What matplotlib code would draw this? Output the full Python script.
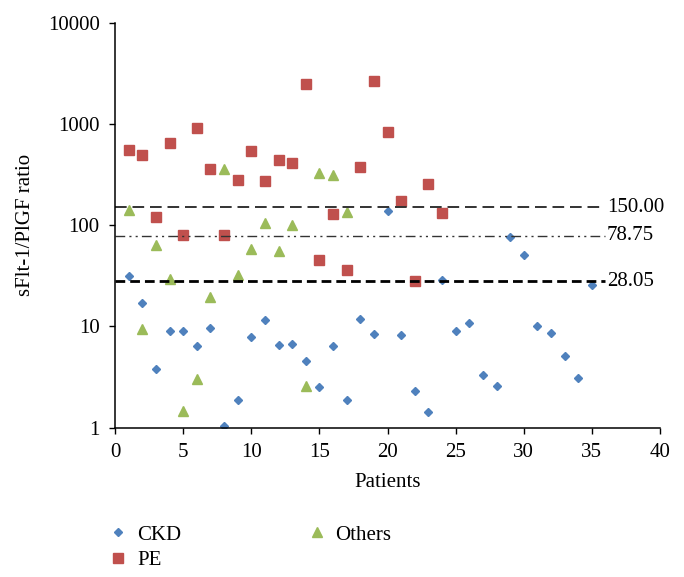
import matplotlib
matplotlib.use("Agg")
import matplotlib.pyplot as plt
from matplotlib.lines import Line2D

plt.rcParams['font.family'] = ['Liberation Serif', 'DejaVu Serif']
plt.rcParams['font.size'] = 15

# CKD patients 1-35
ckd_x = list(range(1, 36))
ckd_y = [31.8, 17.1, 3.78, 9.09, 9.09, 6.42, 9.73, 1.04, 1.87, 7.82,
         11.5, 6.56, 6.67, 4.59, 2.52, 6.46, 1.89, 11.9, 8.49, 138,
         8.30, 2.31, 1.44, 28.8, 9.09, 10.9, 3.29, 2.58, 76.6, 51.1,
         10.2, 8.63, 5.11, 3.10, 25.9]

# PE patients 1-24
pe_x = list(range(1, 25))
pe_y = [551, 499, 120, 655, 79.7, 921, 357, 80.7, 278, 539,
        274, 442, 410, 2490, 45.7, 130, 36.4, 379, 2650, 841,
        174, 28.2, 258, 131]

# Others patients 1-17
oth_x = list(range(1, 18))
oth_y = [142, 9.45, 63.4, 29.3, 1.45, 3.03, 19.5, 357, 32.5, 58.7,
         106, 56.1, 100, 2.60, 331, 314, 136]

cutoffs = [150.00, 78.75, 28.05]
cutoff_labels = ['150.00', '78.75', '28.05']

blue = '#4F81BD'
red = '#C0504D'
green = '#9BBB59'

fig = plt.figure(figsize=(6.84, 5.77), dpi=100)
ax = fig.add_axes([115 / 684, 1 - 427.7 / 577, 545 / 684, 405 / 577])

ax.plot(ckd_x, ckd_y, 'D', color=blue, ms=4.3, mec=blue, ls='none')
ax.plot(pe_x, pe_y, 's', color=red, ms=6.5, mec=red, ls='none')
ax.plot(oth_x, oth_y, '^', color=green, ms=6.5, mec=green, ls='none')

# cutoff lines
ax.plot([0, 35.95], [cutoffs[0]] * 2, color='#333333', lw=1.4, dashes=(6, 3))
ax.plot([0, 35.95], [cutoffs[1]] * 2, color='#333333', lw=1.0,
        dashes=(7, 3, 1.5, 3, 1.5, 3))
ax.plot([0, 35.95], [cutoffs[2]] * 2, color='black', lw=2.0, dashes=(3.5, 1.8))
for v, lab in zip(cutoffs, cutoff_labels):
    ax.text(36.1, v, lab, ha='left', va='center', clip_on=False)

ax.set_yscale('log')
ax.set_ylim(1, 10000)
ax.set_xlim(0, 40)
ax.set_xticks(range(0, 41, 5))
ax.set_yticks([1, 10, 100, 1000, 10000])
ax.set_yticklabels(['1', '10', '100', '1000', '10000'])
ax.minorticks_off()
ax.tick_params(direction='out', length=4, width=1, pad=7)
for s in ['top', 'right']:
    ax.spines[s].set_visible(False)
for s in ['left', 'bottom']:
    ax.spines[s].set_linewidth(1.1)

ax.set_xlabel('Patients', labelpad=8)
ax.set_ylabel('sFlt-1/PlGF ratio', labelpad=9)

handles = [
    Line2D([], [], marker='D', color=blue, ms=4.3, ls='none'),
    Line2D([], [], marker='s', color=red, ms=6.5, ls='none'),
    Line2D([], [], marker='^', color=green, ms=6.5, ls='none'),
]
fig.legend(handles, ['CKD', 'PE', 'Others'], ncol=2, frameon=False,
           loc='upper left', bbox_to_anchor=(108 / 684, 1 - 525 / 577),
           handlelength=1, handletextpad=0.4, columnspacing=6.0,
           borderpad=0, borderaxespad=0, labelspacing=0.3)

fig.savefig('out.png', dpi=100)
